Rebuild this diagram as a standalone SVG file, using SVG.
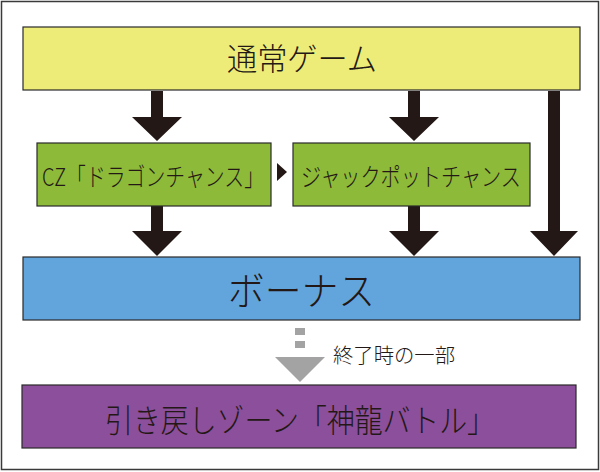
<svg xmlns="http://www.w3.org/2000/svg" width="600" height="472" viewBox="0 0 600 472">
<style>
.box{stroke:#2a2a2a;stroke-width:1.2}
.t{font-family:"Noto Sans CJK JP","Noto Sans",sans-serif;font-weight:300;fill:#231815;text-anchor:middle;dominant-baseline:central}
.arr{fill:#231815}
</style>
<rect x="0" y="0" width="600" height="472" fill="#ffffff"/>
<rect x="1.5" y="1.5" width="597" height="468" fill="none" stroke="#3a3a3a" stroke-width="1.5"/>
<g id="connectors">
<polygon class="arr" points="151,91 163,91 163,117 182,117 157,141 132,117 151,117"/>
<polygon class="arr" points="408,91 420,91 420,117 439,117 414,141 389,117 408,117"/>
<polygon class="arr" points="548,91 560,91 560,231 578,231 554,256 530,231 548,231"/>
<polygon class="arr" points="151,206 163,206 163,231 182,231 157,256 132,231 151,231"/>
<polygon class="arr" points="408,206 420,206 420,231 439,231 414,256 389,231 408,231"/>
<polygon class="arr" points="277,163 287,172 277,181"/>
<g fill="#a3a3a3">
<rect x="295" y="328" width="10" height="7"/>
<rect x="295" y="341" width="10" height="7"/>
<polygon points="275,357 325,357 300,382"/>
</g>
<text class="t" x="333" y="354" font-size="20" style="text-anchor:start" textLength="122" lengthAdjust="spacingAndGlyphs">終了時の一部</text>
</g>
<g id="normal">
<rect class="box" x="23" y="27" width="557" height="63" fill="#eeec78"/>
<text class="t" x="302" y="56" font-size="31" textLength="150" lengthAdjust="spacingAndGlyphs">通常ゲーム</text>
</g>
<g id="cz">
<rect class="box" x="37" y="143" width="234" height="63" fill="#8dba38"/>
<text class="t" x="153" y="175" font-size="25" textLength="222" lengthAdjust="spacingAndGlyphs">CZ「ドラゴンチャンス」</text>
</g>
<g id="jackpot">
<rect class="box" x="293" y="143" width="237" height="63" fill="#8dba38"/>
<text class="t" x="411" y="175" font-size="25" textLength="220" lengthAdjust="spacingAndGlyphs">ジャックポットチャンス</text>
</g>
<g id="bonus">
<rect class="box" x="23" y="257" width="557" height="63" fill="#62a5dd"/>
<text class="t" x="301.5" y="288" font-size="39" textLength="147" lengthAdjust="spacingAndGlyphs">ボーナス</text>
</g>
<g id="battle">
<rect class="box" x="22" y="385" width="554" height="63" fill="#8c4f9b"/>
<text class="t" x="300" y="418" font-size="32" textLength="390" lengthAdjust="spacingAndGlyphs">引き戻しゾーン「神龍バトル」</text>
</g>
</svg>
